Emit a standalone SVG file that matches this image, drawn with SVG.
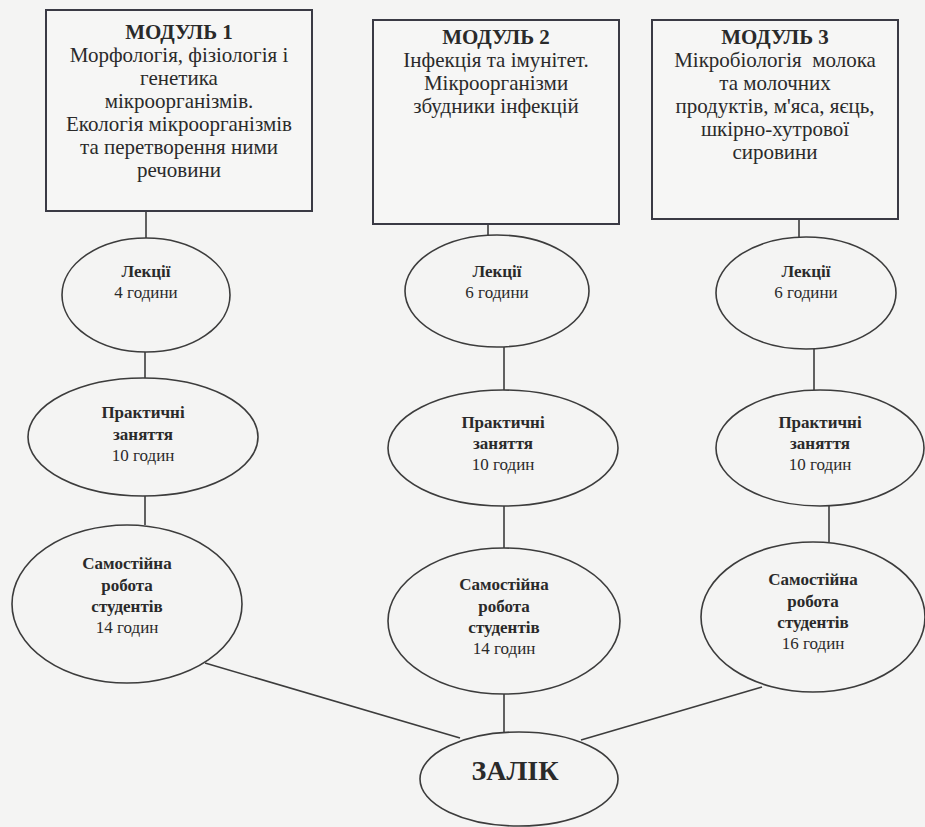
<svg xmlns="http://www.w3.org/2000/svg" width="925" height="827" viewBox="0 0 925 827">
<style>
.bg{fill:#f4f4f3}
.box{fill:#f6f6f5;stroke:#3a3a44;stroke-width:2}
.ell{fill:none;stroke:#3c3c3c;stroke-width:1.6}
.con line{stroke:#3c3c3c;stroke-width:1.6}
text{font-family:'Liberation Serif','DejaVu Serif',serif;fill:#2a2a2a;text-anchor:middle}
.bt{font-size:21px}
.bh{font-size:21px;font-weight:bold}
.et{font-size:17px}
.eb{font-size:17px;font-weight:bold}
.z{font-size:28px;font-weight:bold}
</style>
<rect class="bg" x="0" y="0" width="925" height="827"/>
<g id="connectors" class="con">
<line x1="146" y1="211" x2="146" y2="238"/>
<line x1="145" y1="352" x2="145" y2="378"/>
<line x1="145" y1="496" x2="145" y2="525"/>
<line x1="205" y1="663" x2="460" y2="738"/>
<line x1="488" y1="224" x2="488" y2="235"/>
<line x1="504" y1="347" x2="504" y2="390"/>
<line x1="504" y1="506" x2="504" y2="548"/>
<line x1="504" y1="694" x2="504" y2="732"/>
<line x1="799" y1="219" x2="799" y2="237"/>
<line x1="814" y1="349" x2="814" y2="390"/>
<line x1="829" y1="506" x2="829" y2="542"/>
<line x1="762" y1="687" x2="581" y2="740"/>
</g>
<g id="module1">
<rect class="box" x="46" y="10" width="266" height="201"/>
<text class="bh" x="179" y="39">МОДУЛЬ 1</text>
<text class="bt" x="179" y="62">Морфологія, фізіологія і</text>
<text class="bt" x="179" y="85">генетика</text>
<text class="bt" x="179" y="108">мікроорганізмів.</text>
<text class="bt" x="179" y="131">Екологія мікроорганізмів</text>
<text class="bt" x="179" y="154">та перетворення ними</text>
<text class="bt" x="179" y="177">речовини</text>
</g>
<g id="module2">
<rect class="box" x="373" y="20" width="246" height="204"/>
<text class="bh" x="496" y="44">МОДУЛЬ 2</text>
<text class="bt" x="496" y="67">Інфекція та імунітет.</text>
<text class="bt" x="496" y="90">Мікроорганізми</text>
<text class="bt" x="496" y="113">збудники інфекцій</text>
</g>
<g id="module3">
<rect class="box" x="652" y="20" width="246" height="199"/>
<text class="bh" x="775" y="44">МОДУЛЬ 3</text>
<text class="bt" x="775" y="67" xml:space="preserve">Мікробіологія  молока</text>
<text class="bt" x="775" y="90">та молочних</text>
<text class="bt" x="775" y="113">продуктів, м'яса, яєць,</text>
<text class="bt" x="775" y="136">шкірно-хутрової</text>
<text class="bt" x="775" y="159">сировини</text>
</g>
<g id="lect1">
<ellipse class="ell" cx="146" cy="295" rx="84" ry="57"/>
<text class="eb" x="146" y="277">Лекції</text>
<text class="et" x="146" y="298">4 години</text>
</g>
<g id="prac1">
<ellipse class="ell" cx="143" cy="437" rx="115" ry="59"/>
<text class="eb" x="143" y="418">Практичні</text>
<text class="eb" x="143" y="440">заняття</text>
<text class="et" x="143" y="461">10 годин</text>
</g>
<g id="self1">
<ellipse class="ell" cx="127" cy="604" rx="115" ry="79"/>
<text class="eb" x="127" y="569">Самостійна</text>
<text class="eb" x="127" y="591">робота</text>
<text class="eb" x="127" y="612">студентів</text>
<text class="et" x="127" y="633">14 годин</text>
</g>
<g id="lect2">
<ellipse class="ell" cx="497" cy="291" rx="92" ry="56"/>
<text class="eb" x="497" y="277">Лекції</text>
<text class="et" x="497" y="298">6 години</text>
</g>
<g id="prac2">
<ellipse class="ell" cx="503" cy="448" rx="115" ry="58"/>
<text class="eb" x="503" y="428">Практичні</text>
<text class="eb" x="503" y="449">заняття</text>
<text class="et" x="503" y="470">10 годин</text>
</g>
<g id="self2">
<ellipse class="ell" cx="504" cy="621" rx="116" ry="73"/>
<text class="eb" x="504" y="590">Самостійна</text>
<text class="eb" x="504" y="612">робота</text>
<text class="eb" x="504" y="633">студентів</text>
<text class="et" x="504" y="654">14 годин</text>
</g>
<g id="lect3">
<ellipse class="ell" cx="806" cy="293" rx="90" ry="56"/>
<text class="eb" x="806" y="277">Лекції</text>
<text class="et" x="806" y="298">6 години</text>
</g>
<g id="prac3">
<ellipse class="ell" cx="820" cy="448" rx="104" ry="58"/>
<text class="eb" x="820" y="428">Практичні</text>
<text class="eb" x="820" y="449">заняття</text>
<text class="et" x="820" y="470">10 годин</text>
</g>
<g id="self3">
<ellipse class="ell" cx="813" cy="617" rx="112" ry="75"/>
<text class="eb" x="813" y="585">Самостійна</text>
<text class="eb" x="813" y="607">робота</text>
<text class="eb" x="813" y="628">студентів</text>
<text class="et" x="813" y="649">16 годин</text>
</g>
<g id="zalik">
<ellipse class="ell" cx="519" cy="779" rx="99" ry="47"/>
<text class="z" x="515" y="780">ЗАЛІК</text>
</g>
</svg>
